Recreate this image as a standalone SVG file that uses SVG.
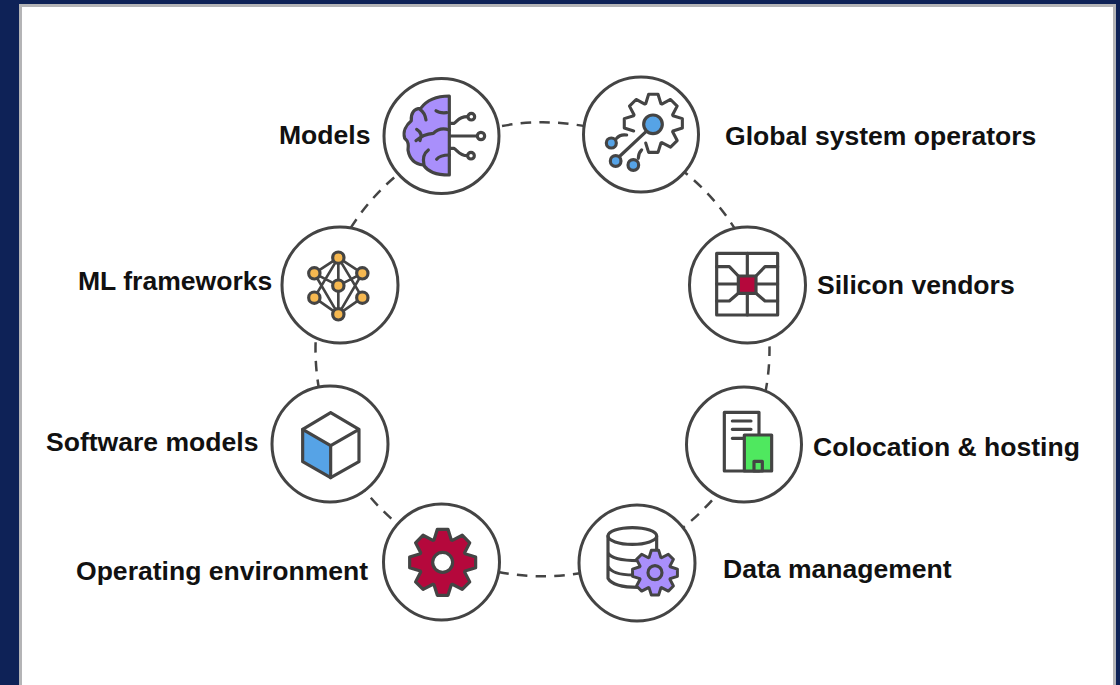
<svg xmlns="http://www.w3.org/2000/svg" width="1120" height="685" viewBox="0 0 1120 685">
<style>
.lb{font-family:"Liberation Sans",Arial,sans-serif;font-weight:700;font-size:26.55px;fill:#111}
.node{fill:#fff;stroke:#444;stroke-width:3}
.ic{stroke:#444;stroke-width:9.5;fill:none;stroke-linejoin:round;stroke-linecap:round}
.ic .w{fill:#fff}
.ring{fill:none;stroke:#444;stroke-width:2.5;stroke-dasharray:10.5 8.27;stroke-dashoffset:-15}
</style>
<defs>
<path id="gear" d="M-26,-67L-16,-99 16,-99 26,-67 29,-65.8 58.7,-81.3 81.3,-58.7 65.8,-29 67,-26 99,-16 99,16 67,26 65.8,29 81.3,58.7 58.7,81.3 29,65.8 26,67 16,99 -16,99 -26,67 -29,65.8 -58.7,81.3 -81.3,58.7 -65.8,29 -67,26 -99,16 -99,-16 -67,-26 -65.8,-29 -81.3,-58.7 -58.7,-81.3 -29,-65.8Z"/>
</defs>
<rect width="1120" height="685" fill="#0e2257"/>
<rect x="19" y="4" width="1097" height="681" fill="#b4b4b6"/>
<rect x="22" y="7" width="1091" height="678" fill="#fff"/>
<g id="connectors"><circle class="ring" cx="542.5" cy="349.3" r="227"/></g>

<g id="models">
<circle class="node" cx="441.5" cy="136" r="57.5"/>
<g class="ic" transform="translate(370 70) scale(.3333)">
<path fill="#a98ffb" d="M238,78C205,78 172,88 152,115C132,115 122,130 124,152C108,165 98,185 104,205C116,215 116,225 114,240C118,265 133,282 160,285C175,305 195,315 238,315Z"/>
<path d="M198,122Q208,130 230,128M150,118Q165,128 168,150M140,178Q160,190 150,212M138,212Q160,192 190,190Q210,170 238,180M175,240Q155,255 162,285M200,268Q210,255 238,255"/>
<path d="M240,160H252C262,155 265,140 292,140M240,198H320M240,235H252C262,240 268,257 292,257"/>
<circle class="w" cx="304" cy="140" r="10"/><circle class="w" cx="333" cy="198" r="11"/><circle class="w" cx="303" cy="257" r="10"/>
</g>
<text class="lb" x="279" y="144">Models</text>
</g>

<g id="global-system-operators">
<circle class="node" cx="641" cy="134.5" r="57.5"/>
<g class="ic" transform="translate(570 70) scale(.3333)">
<path transform="translate(250 160) scale(.88)" stroke-width="10.5" d="M-26,67L-16,99 16,99 26,67 29,65.8 58.7,81.3 81.3,58.7 65.8,29 67,26 99,16 99,-16 67,-26 65.8,-29 81.3,-58.7 58.7,-81.3 29,-65.8 26,-67 16,-99 -16,-99 -26,-67 -29,-65.8 -58.7,-81.3 -81.3,-58.7 -65.8,-29 -67,-26 -99,-16 -99,16 -67,26"/>
<path d="M228,185L150,258M140,205Q150,192 170,195M205,265Q205,250 215,240"/>
<circle cx="249" cy="163" r="28" fill="#56a3e6"/>
<circle cx="124" cy="219" r="15" fill="#56a3e6"/><circle cx="137" cy="273" r="16" fill="#56a3e6"/><circle cx="190" cy="285" r="16" fill="#56a3e6"/>
</g>
<text class="lb" x="725" y="145">Global system operators</text>
</g>

<g id="silicon-vendors">
<circle class="node" cx="747.5" cy="285" r="58"/>
<g class="ic" transform="translate(680 220) scale(.3333)" stroke-linecap="butt">
<rect x="110" y="100" width="183" height="185"/>
<path d="M202,100V168M202,220V285M110,192H175M228,192H293M110,140H148L175,168M293,140H255L228,168M110,243H148L175,220M293,243H255L228,220"/>
<rect x="175" y="168" width="53" height="52" fill="#b5083c"/>
</g>
<text class="lb" x="817" y="294">Silicon vendors</text>
</g>

<g id="colocation-hosting">
<circle class="node" cx="744" cy="444.5" r="57.5"/>
<g class="ic" transform="translate(675 380) scale(.3333)">
<rect class="w" x="148" y="97" width="104" height="176"/>
<path d="M172,123H228M172,148H228M172,175H206"/>
<rect x="208" y="165" width="82" height="108" fill="#4fe85f"/>
<rect x="237" y="244" width="25" height="29" fill="#4fe85f"/>
</g>
<text class="lb" x="813" y="456">Colocation &amp; hosting</text>
</g>

<g id="data-management">
<circle class="node" cx="637" cy="563" r="58"/>
<g class="ic" transform="translate(570 500) scale(.3333)">
<ellipse cx="187" cy="108" rx="73" ry="25"/>
<path d="M114,108V235M260,108V165M114,158Q125,182 205,182M114,198Q125,225 190,225M114,235Q130,262 205,262"/>
<use href="#gear" transform="translate(255 218) scale(.68)" fill="#a98ffb" stroke-width="13"/>
<circle cx="255" cy="218" r="21" fill="#a98ffb"/>
</g>
<text class="lb" x="723" y="578">Data management</text>
</g>

<g id="operating-environment">
<circle class="node" cx="441.5" cy="562" r="58"/>
<g class="ic" transform="translate(375 500) scale(.3333)">
<use href="#gear" transform="translate(203 187)" fill="#b5083c"/>
<circle class="w" cx="203" cy="187" r="30"/>
</g>
<text class="lb" x="76" y="580">Operating environment</text>
</g>

<g id="software-models">
<circle class="node" cx="330" cy="444" r="58"/>
<g class="ic" transform="translate(265 380) scale(.3333)">
<path d="M113,148L197,197V293L113,245Z" fill="#56a3e6"/>
<path d="M197,98L282,148V245L197,293M197,98L113,148M282,148L197,197"/>
</g>
<text class="lb" x="46" y="451">Software models</text>
</g>

<g id="ml-frameworks">
<circle class="node" cx="340" cy="285" r="58"/>
<g class="ic" transform="translate(275 220) scale(.3333)">
<path stroke-width="8" d="M190,113L118,160M190,113L262,160M190,113V283M190,113L118,233M190,113L262,233M118,160L190,197L262,160M118,160L190,283M262,160L190,283M118,233L190,283M262,233L190,283"/>
<g fill="#f6b850"><circle cx="190" cy="113" r="17"/><circle cx="118" cy="160" r="17"/><circle cx="262" cy="160" r="17"/><circle cx="190" cy="197" r="17"/><circle cx="118" cy="233" r="17"/><circle cx="262" cy="233" r="17"/><circle cx="190" cy="283" r="17"/></g>
</g>
<text class="lb" x="78" y="290">ML frameworks</text>
</g>
</svg>
